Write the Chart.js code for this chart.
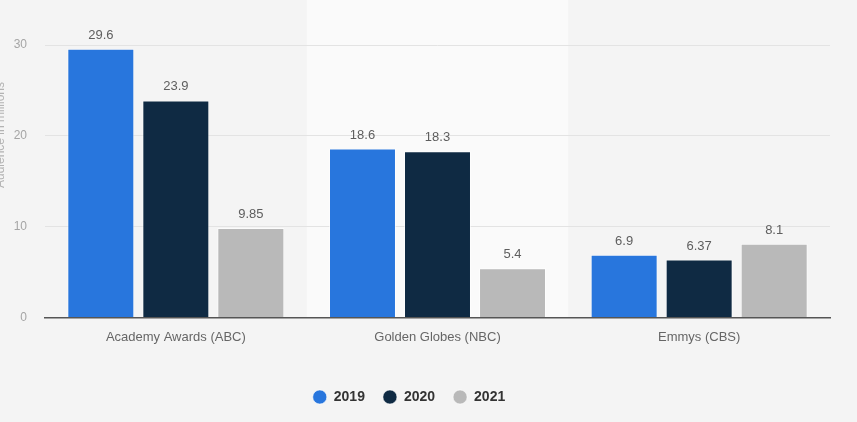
<!DOCTYPE html>
<html>
<head>
<meta charset="utf-8">
<script src="https://cdn.jsdelivr.net/npm/chart.js@4.4.0/dist/chart.umd.min.js"></script>
<style>
  html, body { margin:0; padding:0; background:#f4f4f4; }
  #wrap { position:relative; width:857px; height:422px; background:#f4f4f4; }
</style>
</head>
<body>
<div id="wrap"><canvas id="c"></canvas></div>
<script>
const categories = ["Academy Awards (ABC)", "Golden Globes (NBC)", "Emmys (CBS)"];
const seriesNames = ["2019", "2020", "2021"];
const values2019 = [29.6, 18.6, 6.9];
const values2020 = [23.9, 18.3, 6.37];
const values2021 = [9.85, 5.4, 8.1];
const yTicks = [0, 10, 20, 30];
const yTitle = "Audience in millions";

const colors = ["#2876dd", "#0f2a43", "#b9b9b9"];
const FONT = '"Liberation Sans", Arial, sans-serif';

const bandPlugin = {
  id: 'bands',
  beforeDraw(chart) {
    const {ctx, chartArea, scales} = chart;
    const x = scales.x;
    const n = categories.length;
    const w = (chartArea.right - chartArea.left) / n;
    ctx.save();
    for (let i = 0; i < n; i++) {
      if (i % 2 === 1) {
        const cx = x.getPixelForValue(i);
        ctx.fillStyle = '#fafafa';
        ctx.fillRect(cx - w/2, 0, w, chartArea.bottom);
      }
    }
    ctx.restore();
  }
};

const legendShiftPlugin = {
  id: 'legendShift',
  afterLayout(chart) {
    if (chart.legend) {
      chart.legend.left -= 13;
      chart.legend.right -= 13;
      if (chart.legend.legendHitBoxes) {
        chart.legend.legendHitBoxes.forEach(h => { h.left -= 13; });
      }
    }
  }
};

const yTitlePlugin = {
  id: 'yTitle',
  afterDraw(chart) {
    const {ctx} = chart;
    ctx.save();
    ctx.translate(4, 135);
    ctx.rotate(-Math.PI / 2);
    ctx.font = '12px ' + FONT;
    ctx.fillStyle = '#b3b3b3';
    ctx.textAlign = 'center';
    ctx.textBaseline = 'alphabetic';
    ctx.fillText(yTitle, 0, 0);
    ctx.restore();
  }
};

const labelPlugin = {
  id: 'valueLabels',
  afterDatasetsDraw(chart) {
    const {ctx} = chart;
    ctx.save();
    ctx.font = '13px ' + FONT;
    ctx.fillStyle = '#5e5e5e';
    ctx.textAlign = 'center';
    ctx.textBaseline = 'alphabetic';
    chart.data.datasets.forEach((ds, di) => {
      const meta = chart.getDatasetMeta(di);
      meta.data.forEach((bar, i) => {
        ctx.fillText(String(ds.data[i]), bar.x, bar.y - 10);
      });
    });
    ctx.restore();
  }
};

const seriesData = [values2019, values2020, values2021];

new Chart(document.getElementById('c'), {
  type: 'bar',
  data: {
    labels: categories,
    datasets: seriesNames.map((name, i) => ({
      label: name,
      data: seriesData[i],
      backgroundColor: colors[i],
      borderColor: 'rgba(255,255,255,0.6)',
      borderWidth: 1,
      categoryPercentage: 0.86,
      barPercentage: 0.893
    }))
  },
  options: {
    responsive: true,
    maintainAspectRatio: false,
    animation: false,
    devicePixelRatio: 1,
    layout: { padding: { top: 45, right: 27, bottom: 8, left: 14 } },
    plugins: {
      tooltip: { enabled: false },
      legend: {
        position: 'bottom',
        labels: {
          usePointStyle: true,
          pointStyle: 'circle',
          boxWidth: 14,
          boxHeight: 10,
          padding: 18,
          color: '#333',
          font: { family: FONT, size: 14, weight: 'bold' }
        }
      }
    },
    scales: {
      x: {
        grid: { display: false, drawTicks: false },
        border: { display: true, color: '#555', width: 1.5 },
        ticks: {
          color: '#666',
          padding: 12,
          font: { family: FONT, size: 13 }
        },
        afterFit(scale) { scale.height += 15; }
      },
      y: {
        min: 0,
        max: 30,
        afterBuildTicks(axis) { axis.ticks = yTicks.map(v => ({ value: v })); },
        afterFit(scale) { scale.width = 31; },
        grid: { color: '#e3e3e3', drawTicks: false },
        border: { display: false },
        ticks: {
          color: '#a5a5a5',
          padding: 18,
          font: { family: FONT, size: 12 }
        }
      }
    }
  },
  plugins: [bandPlugin, labelPlugin, yTitlePlugin, legendShiftPlugin]
});
</script>
</body>
</html>
